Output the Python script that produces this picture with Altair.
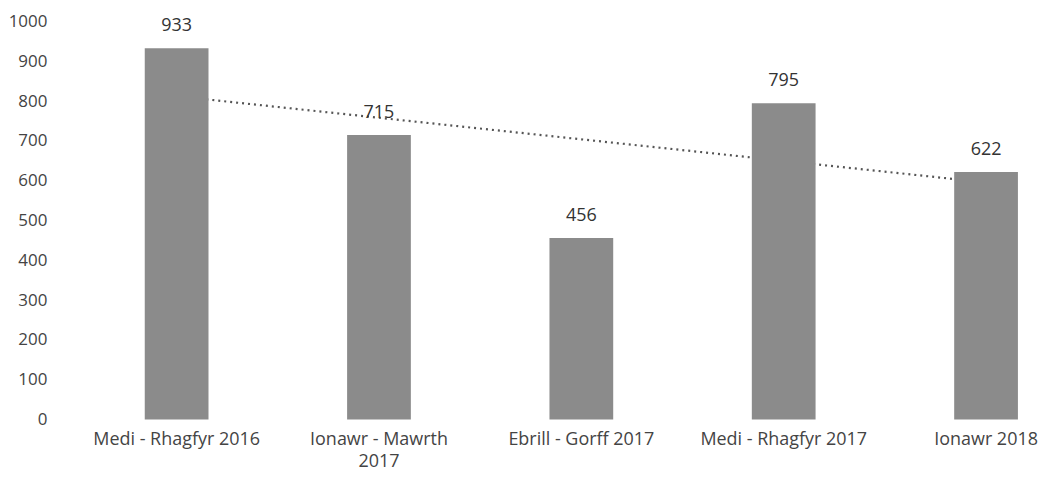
import altair as alt
import pandas as pd

categories = ["Medi - Rhagfyr 2016", "Ionawr - Mawrth 2017", "Ebrill - Gorff 2017",
              "Medi - Rhagfyr 2017", "Ionawr 2018"]
values = [933, 715, 456, 795, 622]
y_ticks = [0, 100, 200, 300, 400, 500, 600, 700, 800, 900, 1000]

df = pd.DataFrame({"cat": categories, "value": values, "idx": list(range(len(categories)))})

FONT = "Open Sans"

x_enc = alt.X(
    "cat:N", sort=categories, title=None,
    scale=alt.Scale(paddingInner=0.685, paddingOuter=0.05),
    axis=alt.Axis(
        labelAngle=0, labelAlign="center", labelBaseline="top",
        labelFont=FONT, labelFontSize=18, labelColor="#444",
        domain=False, ticks=False, labelPadding=11, labelLineHeight=22,
        labelOverlap=False, labelLimit=300,
        labelExpr="datum.value == 'Ionawr - Mawrth 2017' ? ['Ionawr - Mawrth', '2017'] : datum.label",
    ),
)
y_enc = alt.Y(
    "value:Q", title=None,
    scale=alt.Scale(domain=[0, 1000], nice=False),
    axis=alt.Axis(
        values=y_ticks, format="d", labelOverlap=False,
        labelFont=FONT, labelFontSize=17, labelColor="#444",
        domain=False, ticks=False, grid=False, labelPadding=88,
    ),
)

base = alt.Chart(df)

trend = base.transform_regression("idx", "value", method="linear").transform_lookup(
    lookup="idx", from_=alt.LookupData(data=df, key="idx", fields=["cat"])
).mark_line(color="#555555", strokeWidth=2.2, strokeDash=[2, 4]).encode(
    x=x_enc, y=y_enc
)

bars = base.mark_bar(color="#8b8b8b").encode(x=x_enc, y=y_enc)

labels = base.mark_text(dy=-22, font=FONT, fontSize=18, color="#333333").encode(
    x=x_enc, y=y_enc, text="value:Q"
)

chart = alt.layer(trend, bars, labels).properties(
    width=896, height=399, background="white",
    padding={"left": 0, "top": 4, "right": 5, "bottom": 5},
).configure_view(strokeWidth=0)

chart.save("out.html", embed_options={"renderer": "svg", "actions": False})
